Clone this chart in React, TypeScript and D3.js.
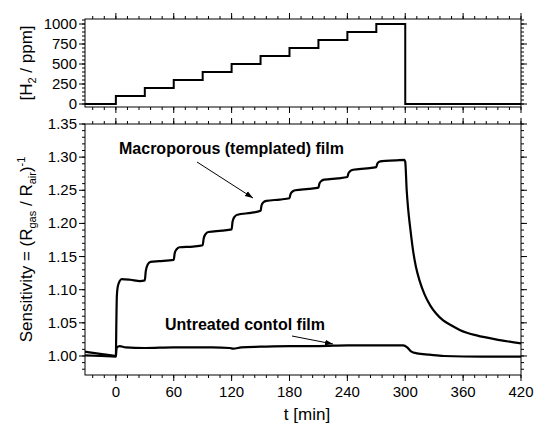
import * as d3 from 'd3';

// ---- data ----
const h2Times = [-32, 0, 30, 60, 90, 120, 150, 180, 210, 240, 270, 300, 420];
const h2Levels = [0, 100, 200, 300, 400, 500, 600, 700, 800, 900, 1000, 0, 0];

const macroT = [
  -32, -20, -10, 0, 0.5, 1, 2, 4, 6, 15, 25, 30,
  31, 33, 36, 45, 60, 61, 63, 66, 80, 90, 91, 93, 96, 110, 120,
  121, 123, 126, 140, 150, 151, 153, 156, 170, 180, 181, 183, 186, 200, 210,
  211, 213, 216, 230, 240, 241, 243, 246, 260, 270, 271, 273, 276, 290, 299,
  300, 301.5, 303, 305, 308, 311, 315, 320, 326, 332, 339, 348, 357, 374, 398, 420,
];
const macroS = [
  1.0065, 1.004, 1.002, 1.0, 1.05, 1.09, 1.105, 1.113, 1.116, 1.115, 1.113, 1.114,
  1.128, 1.138, 1.142, 1.143, 1.145, 1.155, 1.161, 1.164, 1.165, 1.167, 1.177, 1.184, 1.187, 1.189, 1.191,
  1.203, 1.21, 1.213, 1.216, 1.219, 1.227, 1.232, 1.234, 1.236, 1.238, 1.244, 1.248, 1.25, 1.252, 1.254,
  1.26, 1.264, 1.266, 1.268, 1.27, 1.275, 1.279, 1.281, 1.283, 1.285, 1.29, 1.293, 1.294, 1.295, 1.296,
  1.293, 1.25, 1.222, 1.195, 1.16, 1.135, 1.113, 1.093, 1.076, 1.064, 1.054, 1.046, 1.039, 1.031, 1.024, 1.019,
];

const untreatedT = [
  -32, -15, 0, 0.5, 1, 4, 10, 30, 60, 100, 118, 122, 130, 150, 180, 210, 240, 270, 298,
  302, 306, 312, 325, 340, 380, 420,
];
const untreatedS = [
  1.001, 1.0, 0.999, 1.008, 1.013, 1.015, 1.013, 1.012, 1.013, 1.013, 1.012, 1.011, 1.013, 1.014, 1.015, 1.015, 1.016, 1.016, 1.016,
  1.013, 1.007, 1.004, 1.002, 1.0, 0.999, 0.999,
];

const xTicks = [0, 60, 120, 180, 240, 300, 360, 420];
const h2Ticks = [0, 250, 500, 750, 1000];
const sensTicks = [1.0, 1.05, 1.1, 1.15, 1.2, 1.25, 1.3, 1.35];

const W = 535;
const H = 429;
const left = 85;
const right = 521;
const topA = 19;
const botA = 107;
const topB = 124;
const botB = 375;
const font = "'Liberation Sans', Arial, sans-serif";

const x = d3.scaleLinear().domain([-32, 420]).range([left, right]);
const yH2 = d3.scaleLinear().domain([-37.5, 1062.5]).range([botA, topA]);
const yS = d3.scaleLinear().domain([0.9713, 1.35]).range([botB, topB]);

const xMinor = d3.range(-24, 421, 12);
const h2Minor = d3.range(0, 1051, 50);
const sMinor = d3.range(98, 136).map((d) => d / 100);

const h2Line = d3
  .line<number>()
  .x((d, i) => x(h2Times[i]))
  .y((d) => yH2(d))
  .curve(d3.curveStepAfter);

const sensLine = (ts: number[]) =>
  d3
    .line<number>()
    .x((d, i) => x(ts[i]))
    .y((d) => yS(d))
    .curve(d3.curveMonotoneX);

function XTicks({ y0, dir }: { y0: number; dir: number }) {
  return (
    <g stroke="#000" strokeWidth={1}>
      {xMinor.map((t) => (
        <line key={'m' + t} x1={x(t)} x2={x(t)} y1={y0} y2={y0 + dir * 3} />
      ))}
      {xTicks.map((t) => (
        <line key={'M' + t} x1={x(t)} x2={x(t)} y1={y0} y2={y0 + dir * 6} />
      ))}
    </g>
  );
}

function YTicks({ scale, minor, major, x0, dir }: any) {
  return (
    <g stroke="#000" strokeWidth={1}>
      {minor.map((v: number) => (
        <line key={'m' + v} x1={x0} x2={x0 + dir * 3} y1={scale(v)} y2={scale(v)} />
      ))}
      {major.map((v: number) => (
        <line key={'M' + v} x1={x0} x2={x0 + dir * 6} y1={scale(v)} y2={scale(v)} />
      ))}
    </g>
  );
}

export default function App() {
  return (
    <svg width={W} height={H} style={{ position: 'absolute', left: 0, top: 0, background: '#fff' }} fontFamily={font}>
      <defs>
        <clipPath id="clipA">
          <rect x={left} y={topA} width={right - left} height={botA - topA} />
        </clipPath>
        <clipPath id="clipB">
          <rect x={left} y={topB} width={right - left} height={botB - topB} />
        </clipPath>
        <marker id="arr" viewBox="0 0 10 10" refX="10" refY="5" markerWidth="8" markerHeight="8" orient="auto">
          <path d="M0,1.5 L10,5 L0,8.5 z" fill="#000" />
        </marker>
      </defs>

      {/* top panel: H2 concentration */}
      <path d={h2Line(h2Levels) || ''} fill="none" stroke="#000" strokeWidth={2} clipPath="url(#clipA)" />
      <rect x={left} y={topA} width={right - left} height={botA - topA} fill="none" stroke="#000" strokeWidth={1} />
      <XTicks y0={topA} dir={-1} />
      <XTicks y0={botA} dir={1} />
      <YTicks scale={yH2} minor={h2Minor} major={h2Ticks} x0={left} dir={-1} />
      <YTicks scale={yH2} minor={h2Minor} major={h2Ticks} x0={right} dir={1} />
      {h2Ticks.map((v) => (
        <text key={v} x={left - 8} y={yH2(v) + 5} textAnchor="end" fontSize={15}>
          {v}
        </text>
      ))}
      <text transform={`translate(32,${(topA + botA) / 2}) rotate(-90)`} textAnchor="middle" fontSize={17}>
        [H<tspan fontSize={11} dy={4}>2</tspan>
        <tspan dy={-4}> / ppm]</tspan>
      </text>

      {/* bottom panel: sensitivity */}
      <g clipPath="url(#clipB)" fill="none" stroke="#000" strokeWidth={2.2} strokeLinejoin="round">
        <path d={sensLine(macroT)(macroS) || ''} />
        <path d={sensLine(untreatedT)(untreatedS) || ''} />
      </g>
      <rect x={left} y={topB} width={right - left} height={botB - topB} fill="none" stroke="#000" strokeWidth={1} />
      <XTicks y0={topB} dir={-1} />
      <XTicks y0={botB} dir={1} />
      <YTicks scale={yS} minor={sMinor} major={sensTicks} x0={left} dir={-1} />
      <YTicks scale={yS} minor={sMinor} major={sensTicks} x0={right} dir={1} />
      {sensTicks.map((v) => (
        <text key={v} x={left - 8} y={yS(v) + 5} textAnchor="end" fontSize={15}>
          {v.toFixed(2)}
        </text>
      ))}
      {xTicks.map((t) => (
        <text key={t} x={x(t)} y={397} textAnchor="middle" fontSize={15}>
          {t}
        </text>
      ))}
      <text x={(left + right) / 2 + 4} y={420} textAnchor="middle" fontSize={17}>
        t [min]
      </text>
      <text transform={`translate(32,${(topB + botB) / 2}) rotate(-90)`} textAnchor="middle" fontSize={17}>
        Sensitivity = (R<tspan fontSize={11} dy={4}>gas</tspan>
        <tspan dy={-4}> / R</tspan>
        <tspan fontSize={11} dy={4}>air</tspan>
        <tspan dy={-4}>)</tspan>
        <tspan fontSize={11} dy={-7}>-1</tspan>
      </text>

      {/* annotations */}
      <text x={119} y={154} fontSize={16} fontWeight="bold">
        Macroporous (templated) film
      </text>
      <line x1={197} y1={162} x2={253} y2={198} stroke="#000" strokeWidth={1} markerEnd="url(#arr)" />
      <text x={165} y={330} fontSize={16} fontWeight="bold">
        Untreated contol film
      </text>
      <line x1={292} y1={336} x2={333} y2={344} stroke="#000" strokeWidth={1} markerEnd="url(#arr)" />
    </svg>
  );
}
